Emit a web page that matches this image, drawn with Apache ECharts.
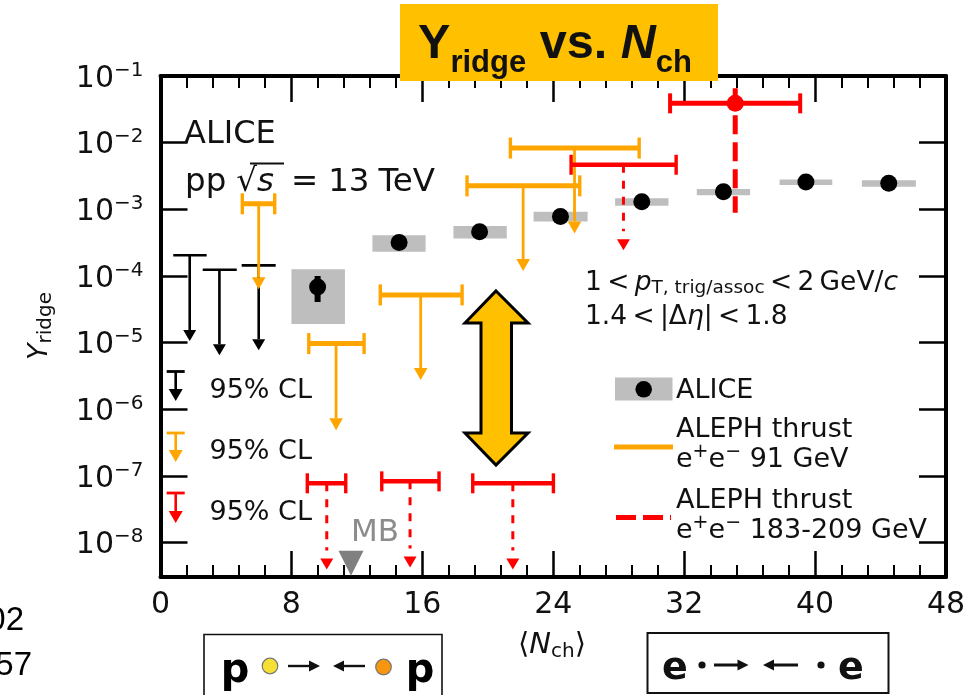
<!DOCTYPE html>
<html><head><meta charset="utf-8">
<style>html,body{margin:0;padding:0;background:#fff}#c{width:979px;height:695px}</style>
<script src="https://cdn.jsdelivr.net/npm/echarts@6/dist/echarts.min.js"></script>
</head><body><div id="c"></div>
<script>
// ---- data ----
const yTicks = [1e-1,1e-2,1e-3,1e-4,1e-5,1e-6,1e-7,1e-8];
const aliceX = [9.6,14.58,19.5,24.44,29.41,34.4,39.44,44.5];
const aliceY = [6.85e-5,3.18e-4,4.6e-4,7.8e-4,1.3e-3,1.83e-3,2.56e-3,2.47e-3];
const aliceXLow = [8.0,12.95,17.9,22.8,27.78,32.77,37.83,42.86];
const aliceXHigh = [11.27,16.2,21.16,26.1,31.04,36.03,41.05,46.16];
const aliceSysLow = [1.9e-5,2.3e-4,3.66e-4,6.58e-4,1.13e-3,1.63e-3,2.31e-3,2.18e-3];
const aliceSysHigh = [1.26e-4,4.1e-4,5.6e-4,9.18e-4,1.46e-3,2.01e-3,2.81e-3,2.74e-3];
const aliceStatLow = [4.07e-5];
const aliceStatHigh = [1e-4];

const blackX = [1.785,3.6,6.0];
const blackXLow = [0.78,2.58,4.96];
const blackXHigh = [2.82,4.66,7.04];
const blackLimit = [2.05e-4,1.24e-4,1.44e-4];
const blackTip = [1.06e-5,6.46e-6,7.7e-6];

const orangeX = [6.0,10.73,15.9,22.16,25.3];
const orangeXLow = [5.0,9.06,13.43,18.73,21.38];
const orangeXHigh = [6.98,12.44,18.43,25.62,29.25];
const orangeLimit = [1.21e-3,9.68e-6,5.2e-5,2.25e-3,8.3e-3];
const orangeTip = [6.34e-5,4.84e-7,2.75e-6,1.19e-4,4.35e-4];

const redX = [28.29,10.16,15.25,21.53];
const redXLow = [25.09,8.97,13.52,19.08];
const redXHigh = [31.51,11.32,17.02,24.01];
const redLimit = [4.66e-3,7.76e-8,8.3e-8,7.76e-8];
const redTip = [2.44e-4,3.96e-9,4.25e-9,3.96e-9];

const redPointX = [35.12];
const redPointY = [0.0389];
const redPointXLow = [31.14];
const redPointXHigh = [39.09];
const redPointYLow = [8.87e-4];
const redPointYHigh = [0.0653];

const mbX = [11.64];
const mbY = [4.9e-9];

// ---- colours / styles ----
const ORANGE='#FFA500', RED='#FF0000', GREY='#BEBEBE', GOLD='#FFC000';
const DJ='"DejaVu Sans"', LS='"Liberation Sans"';
const rows = (...cols)=>cols[0].map((_,i)=>cols.map(c=>c[i]));

// limit-bracket drawing
function limitSeries(name,xs,lo,hi,lim,tip,o){
  return {type:'custom',name,z:o.z||3,clip:false,silent:true,
    data:rows(xs,lim,tip,lo,hi),encode:{x:0,y:1},
    renderItem(p,api){
      const top=api.coord([api.value(0),api.value(1)]);
      const end=api.coord([api.value(0),api.value(2)]);
      const l=api.coord([api.value(3),api.value(1)]);
      const r=api.coord([api.value(4),api.value(1)]);
      const ls={stroke:o.color,lineWidth:o.h,fill:null};
      const ch=[
        {type:'line',shape:{x1:top[0],y1:top[1],x2:end[0],y2:end[1]-o.hh-(o.gap||0)},
          style:{stroke:o.color,lineWidth:o.v,lineDash:o.dash||null}},
        {type:'line',shape:{x1:l[0],y1:l[1],x2:r[0],y2:r[1]},style:ls},
        {type:'polygon',shape:{points:[[end[0]-o.hw,end[1]-o.hh],[end[0]+o.hw,end[1]-o.hh],[end[0],end[1]]]},style:{fill:o.color}}
      ];
      if(o.cap){
        ch.push({type:'line',shape:{x1:l[0],y1:l[1]-o.cap,x2:l[0],y2:l[1]+o.cap},style:{stroke:o.color,lineWidth:3.4}});
        ch.push({type:'line',shape:{x1:r[0],y1:r[1]-o.cap,x2:r[0],y2:r[1]+o.cap},style:{stroke:o.color,lineWidth:3.4}});
      }
      return {type:'group',children:ch};
    }};
}

const aliceBoxes={type:'custom',name:'ALICE syst',z:2,clip:false,silent:true,
  data:rows(aliceXLow,aliceSysHigh,aliceXHigh,aliceSysLow),encode:{x:0,y:1},
  renderItem(p,api){
    const a=api.coord([api.value(0),api.value(1)]),b=api.coord([api.value(2),api.value(3)]);
    return {type:'rect',shape:{x:a[0],y:a[1],width:b[0]-a[0],height:b[1]-a[1]},style:{fill:GREY}};
  }};
const aliceStat={type:'custom',name:'ALICE stat',z:5,clip:false,silent:true,
  data:rows([aliceX[0]],aliceStatHigh,aliceStatLow),encode:{x:0,y:1},
  renderItem(p,api){
    const a=api.coord([api.value(0),api.value(1)]),b=api.coord([api.value(0),api.value(2)]);
    return {type:'line',shape:{x1:a[0],y1:a[1],x2:b[0],y2:b[1]},style:{stroke:'#000',lineWidth:6}};
  }};
const alicePts={type:'scatter',name:'ALICE',z:6,symbol:'circle',symbolSize:17,silent:true,
  itemStyle:{color:'#000',opacity:1},data:rows(aliceX,aliceY)};
const redPoint={type:'custom',name:'ALEPH 183-209',z:7,clip:false,silent:true,
  data:rows(redPointX,redPointY,redPointXLow,redPointXHigh,redPointYLow,redPointYHigh),encode:{x:0,y:1},
  renderItem(p,api){
    const c=api.coord([api.value(0),api.value(1)]),l=api.coord([api.value(2),api.value(1)]),r=api.coord([api.value(3),api.value(1)]);
    const b=api.coord([api.value(0),api.value(4)]),t=api.coord([api.value(0),api.value(5)]);
    const s={stroke:RED,lineWidth:5};
    return {type:'group',children:[
      {type:'line',shape:{x1:t[0],y1:t[1],x2:b[0],y2:b[1]},style:{stroke:RED,lineWidth:5,lineDash:[19,8]}},
      {type:'line',shape:{x1:l[0],y1:l[1],x2:r[0],y2:r[1]},style:s},
      {type:'line',shape:{x1:l[0],y1:l[1]-10,x2:l[0],y2:l[1]+10},style:{stroke:RED,lineWidth:4}},
      {type:'line',shape:{x1:r[0],y1:r[1]-10,x2:r[0],y2:r[1]+10},style:{stroke:RED,lineWidth:4}},
      {type:'circle',shape:{cx:c[0],cy:c[1],r:8.5},style:{fill:RED}}
    ]};
  }};
const mbMark={type:'scatter',name:'MB',z:4,symbol:'triangle',symbolRotate:180,symbolSize:[25,25],silent:true,
  itemStyle:{color:'#808080',opacity:1},data:rows(mbX,mbY)};

// ---- annotations ----
const YS=3; // text sits a little below the em-box middle
function txt(x,y,text,rich,align){
  return {type:'text',x,y:y+YS,z:60,silent:true,style:{text,rich,align:align||'left',verticalAlign:'middle',fill:'#111',fontFamily:DJ}};
}
function plain(x,y,text,size,fill){
  return {type:'text',x,y:y+YS,z:60,silent:true,style:{text,font:size+'px '+DJ,fill:fill||'#111',align:'left',verticalAlign:'middle'}};
}
function seg(x1,y1,x2,y2,stroke,lineWidth,dash){
  return {type:'line',z:55,silent:true,shape:{x1,y1,x2,y2},style:{stroke,lineWidth,lineDash:dash||null}};
}
function arrowKey(x,top,tip,color){
  return [seg(x-9,top,x+9,top,color,2.8),seg(x,top,x,tip-9,color,2.6),
    {type:'polygon',z:55,silent:true,shape:{points:[[x-7,tip-12],[x+7,tip-12],[x,tip]]},style:{fill:color}}];
}
function hArrow(x1,x2,y,w){
  const d=x2>x1?1:-1;
  return [seg(x1,y,x2-d*8,y,'#111',w||2.4),
    {type:'polygon',z:55,silent:true,shape:{points:[[x2,y],[x2-d*11,y-5.5],[x2-d*11,y+5.5]]},style:{fill:'#111'}}];
}
const n26={fontFamily:DJ,fontSize:26.5,color:'#111'}, i26={fontFamily:DJ,fontStyle:'italic',fontSize:26.5,color:'#111'};
const n27={fontFamily:DJ,fontSize:27,color:'#111'};
const sup20={fontFamily:DJ,fontSize:19,padding:[0,0,16,0],color:'#111'};
const yName=txt(40,323,'{y|Y}{s|ridge}',{
    y:{fontFamily:DJ,fontStyle:'italic',fontSize:27,color:'#111'},
    s:{fontFamily:DJ,fontSize:20,color:'#111',padding:[12,0,0,0]}},'center');
yName.rotation=Math.PI/2;
const graphics=[
  // title banner
  {type:'rect',z:50,silent:true,shape:{x:400,y:4,width:318,height:77},style:{fill:GOLD}},
  txt(418,42,'{y|Y}{s|ridge}{y| vs. }{yi|N}{s|ch}',{
    y:{fontFamily:LS,fontWeight:'bold',fontSize:48.6,color:'#000'},
    yi:{fontFamily:LS,fontWeight:'bold',fontStyle:'italic',fontSize:48.6,color:'#000'},
    s:{fontFamily:LS,fontWeight:'bold',fontSize:31,color:'#000',padding:[37,0,0,0]}}),
  // axis names
  yName,
  txt(552,642,'{n|⟨}{i|N}{s|ch}{n|⟩}',{
    n:{fontFamily:DJ,fontSize:29,color:'#111'},
    i:{fontFamily:DJ,fontStyle:'italic',fontSize:29,color:'#111'},
    s:{fontFamily:DJ,fontSize:20,color:'#111',padding:[14,0,0,0]}},'center'),
  // ALICE label
  plain(184,132,'ALICE',32),
  txt(185,180,'{a|pp}{b|√}{c|s}{d|=}{e|13}{f|TeV}',{
    a:{fontFamily:DJ,fontSize:32.5,color:'#111'},
    b:{fontFamily:DJ,fontSize:32.5,color:'#111',padding:[0,0,0,10]},
    c:{fontFamily:DJ,fontStyle:'italic',fontSize:32.5,color:'#111'},
    d:{fontFamily:DJ,fontSize:32.5,color:'#111',padding:[0,0,0,17]},
    e:{fontFamily:DJ,fontSize:32.5,color:'#111',padding:[0,0,0,10]},
    f:{fontFamily:DJ,fontSize:32.5,color:'#111',padding:[0,0,0,9]}}),
  seg(250,163.5,284,163.5,'#111',2),
  // cuts
  txt(585,280,'{n|1\u2009<\u2009}{i|p}{s|T, trig/assoc}{n|\u2009<\u20092\u2009GeV/}{i|c}',{
    n:n26,i:i26,s:{fontFamily:DJ,fontSize:18.5,color:'#111',padding:[10,0,0,0]}}),
  txt(585,314,'{n|1.4\u2009<\u2009|Δ}{i|η}{n||\u2009<\u20091.8}',{n:n26,i:i26}),
  // big double arrow
  {type:'polygon',z:55,silent:true,shape:{points:[[496,291],[528,323],[511.5,323],[511.5,433],[528,433],[496,465],[465,433],[481,433],[481,323],[465,323]]},
   style:{fill:GOLD,stroke:'#000',lineWidth:3,lineJoin:'miter'}},
  // CL keys
  ...arrowKey(175.7,371.5,401,'#000'),
  plain(209.5,388,'95% CL',27),
  ...arrowKey(175.7,433,462,ORANGE),
  plain(209.5,449,'95% CL',27),
  ...arrowKey(175.7,493,523,RED),
  plain(209.5,510,'95% CL',27),
  // MB
  plain(351,530,'MB',31,'#8c8c8c'),
  // legend
  {type:'rect',z:55,silent:true,shape:{x:615,y:377.5,width:57.5,height:23},style:{fill:GREY}},
  {type:'circle',z:56,silent:true,shape:{cx:643.7,cy:389.3,r:8.3},style:{fill:'#000'}},
  plain(676,388,'ALICE',27),
  plain(676,427,'ALEPH thrust',27),
  seg(614,447,673,447,ORANGE,5),
  txt(676,457,'{n|e}{u|+}{n|e}{u|−}{n| 91 GeV}',{n:n27,u:sup20}),
  plain(676,498,'ALEPH thrust',27),
  seg(616,517.5,671,517.5,RED,5,[20,7]),
  txt(676,528,'{n|e}{u|+}{n|e}{u|−}{n| 183-209 GeV}',{n:n27,u:sup20}),
  // stray cropped page text
  {type:'text',x:24,y:621,z:60,silent:true,style:{text:'02',font:'33px '+LS,fill:'#000',align:'right',verticalAlign:'middle'}},
  {type:'text',x:32,y:666,z:60,silent:true,style:{text:'57',font:'33px '+LS,fill:'#000',align:'right',verticalAlign:'middle'}},
  // p box
  {type:'rect',z:50,silent:true,shape:{x:204,y:634.5,width:238,height:80},style:{fill:'#fff',stroke:'#111',lineWidth:1.6}},
  {type:'text',x:235,y:672,z:60,silent:true,style:{text:'p',font:'bold 40px '+DJ,fill:'#000',align:'center',verticalAlign:'middle'}},
  {type:'circle',z:56,silent:true,shape:{cx:270,cy:666,r:7.8},style:{fill:'#F5E133',stroke:'#777',lineWidth:1.2}},
  ...hArrow(288,320,666),
  ...hArrow(365,333,666),
  {type:'circle',z:56,silent:true,shape:{cx:383.5,cy:667,r:7.8},style:{fill:'#F7960F',stroke:'#777',lineWidth:1.2}},
  {type:'text',x:420,y:672,z:60,silent:true,style:{text:'p',font:'bold 40px '+DJ,fill:'#000',align:'center',verticalAlign:'middle'}},
  // e box
  {type:'rect',z:50,silent:true,shape:{x:647.5,y:633,width:241,height:60},style:{fill:'#fff',stroke:'#111',lineWidth:2}},
  {type:'text',x:675,y:669,z:60,silent:true,style:{text:'e',font:'bold 38px '+DJ,fill:'#111',align:'center',verticalAlign:'middle'}},
  {type:'circle',z:56,silent:true,shape:{cx:702,cy:665,r:3.6},style:{fill:'#111'}},
  ...hArrow(714,748.5,665,3),
  ...hArrow(798,763,665,3),
  {type:'circle',z:56,silent:true,shape:{cx:821,cy:665,r:3.6},style:{fill:'#111'}},
  {type:'text',x:851,y:669,z:60,silent:true,style:{text:'e',font:'bold 38px '+DJ,fill:'#111',align:'center',verticalAlign:'middle'}}
];

// ---- axes ----
const lineW=4;
const axisBase={axisLine:{show:true,onZero:false,lineStyle:{color:'#000',width:lineW}},splitLine:{show:false}};
function xAxis(pos,labels){
  return Object.assign({},axisBase,{type:'value',position:pos,min:0,max:48,interval:8,
    axisTick:{show:true,inside:true,length:26,lineStyle:{color:'#000',width:2.5}},
    minorTick:{show:true,splitNumber:5,length:12,lineStyle:{color:'#000',width:2}},
    axisLabel:{show:labels,margin:13,fontFamily:DJ,fontSize:30,color:'#111',
      showMinLabel:true,showMaxLabel:true,formatter:v=>String(v)}});
}
function yAxis(pos,labels){
  return Object.assign({},axisBase,{type:'log',logBase:10,position:pos,min:3.05e-9,max:0.1,
    axisTick:{show:true,inside:true,length:27,customValues:yTicks,lineStyle:{color:'#000',width:2.5}},
    minorTick:{show:false},
    axisLabel:{show:labels,margin:17,customValues:yTicks,padding:[6,0,0,0],
      formatter:v=>'{b|10}{s|−'+Math.round(-Math.log10(v))+'}',
      rich:{b:{fontFamily:DJ,fontSize:30,color:'#111'},
            s:{fontFamily:DJ,fontSize:20,color:'#111',padding:[0,0,17,0]}}}});
}

const chart=echarts.init(document.getElementById('c'),null,{renderer:'canvas'});
chart.setOption({
  animation:false,backgroundColor:'#fff',
  grid:{left:160.5,right:33,top:76,bottom:118,containLabel:false},
  xAxis:[xAxis('bottom',true),xAxis('top',false)],
  yAxis:[yAxis('left',true),yAxis('right',false)],
  series:[
    aliceBoxes,
    limitSeries('Black limits',blackX,blackXLow,blackXHigh,blackLimit,blackTip,{color:'#000',h:2.6,v:2.6,hw:6.5,hh:11,z:3}),
    limitSeries('Orange limits',orangeX,orangeXLow,orangeXHigh,orangeLimit,orangeTip,{color:ORANGE,h:5,v:2.8,hw:6.8,hh:12,cap:10.5,z:4}),
    limitSeries('Red limits',redX,redXLow,redXHigh,redLimit,redTip,{color:RED,h:4.5,v:3,hw:6.5,hh:11,cap:10,dash:[8,8],gap:8,z:4}),
    mbMark,aliceStat,alicePts,redPoint
  ],
  graphic:{elements:graphics}
});
</script></body></html>
